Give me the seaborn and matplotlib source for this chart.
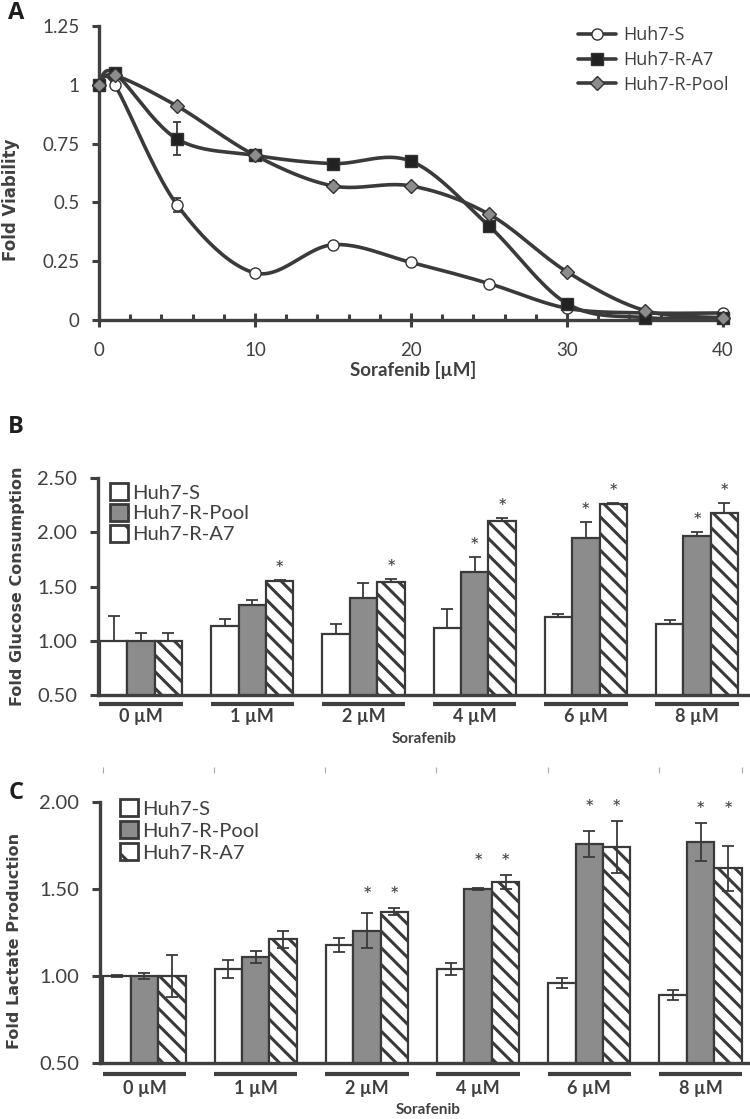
import numpy as np
import pandas as pd
import matplotlib
matplotlib.use("Agg")
import matplotlib.pyplot as plt
import matplotlib.transforms as mtransforms
import seaborn as sns
from matplotlib.patches import Patch
from matplotlib.lines import Line2D
from matplotlib.ticker import MultipleLocator

# ---- panel A : viability vs sorafenib dose
dose_a = [0, 1, 5, 10, 15, 20, 25, 30, 35, 40]
via_s = [1.0, 1.0, 0.49, 0.20, 0.32, 0.245, 0.155, 0.05, 0.03, 0.03]
via_a7 = [1.0, 1.05, 0.77, 0.70, 0.665, 0.675, 0.40, 0.07, 0.01, 0.01]
via_pool = [1.0, 1.04, 0.91, 0.70, 0.57, 0.57, 0.45, 0.205, 0.04, 0.01]
err_s = [0, 0, 0.03, 0, 0, 0, 0, 0, 0, 0]
err_a7 = [0, 0, 0.07, 0, 0, 0, 0, 0, 0, 0]
err_pool = [0, 0, 0, 0, 0.015, 0, 0, 0, 0, 0]
a_yticks = [0, 0.25, 0.5, 0.75, 1, 1.25]
a_yticklabels = ["0", "0.25", "0.5", "0.75", "1", "1.25"]

# ---- panels B and C
doses = ["0 µM", "1 µM", "2 µM", "4 µM", "6 µM", "8 µM"]
cell_lines = ["Huh7-S", "Huh7-R-Pool", "Huh7-R-A7"]

glu_s = [1.00, 1.14, 1.06, 1.12, 1.22, 1.15]
glu_pool = [1.00, 1.33, 1.39, 1.63, 1.95, 1.97]
glu_a7 = [1.00, 1.55, 1.54, 2.10, 2.26, 2.18]
glu_err_s = [0.23, 0.06, 0.09, 0.17, 0.03, 0.04]
glu_err_pool = [0.07, 0.05, 0.14, 0.14, 0.14, 0.03]
glu_err_a7 = [0.07, 0.01, 0.03, 0.03, 0.01, 0.09]
glu_sig = [[0, 0, 0], [0, 0, 1], [0, 0, 1], [0, 1, 1], [0, 1, 1], [0, 1, 1]]

lac_s = [1.00, 1.04, 1.18, 1.04, 0.96, 0.89]
lac_pool = [1.00, 1.11, 1.26, 1.50, 1.76, 1.77]
lac_a7 = [1.00, 1.21, 1.37, 1.54, 1.74, 1.62]
lac_err_s = [0.005, 0.05, 0.04, 0.035, 0.03, 0.03]
lac_err_pool = [0.02, 0.035, 0.10, 0.005, 0.075, 0.11]
lac_err_a7 = [0.12, 0.05, 0.02, 0.04, 0.15, 0.13]
lac_sig = [[0, 0, 0], [0, 0, 0], [0, 1, 1], [0, 1, 1], [0, 1, 1], [0, 1, 1]]

DARK = "#3a3a3a"
TXT = "#404040"

sns.set_theme(style="white")
plt.rcParams["font.family"] = ["Lato", "DejaVu Sans"]
plt.rcParams["hatch.linewidth"] = 2.2
plt.rcParams["hatch.color"] = "#1e1e1e"
plt.rcParams["text.color"] = TXT


def smooth_curve(xs, ys, sx=15.6, sy=235.0, n=25):
    # excel style smoothed line (bezier through the points)
    px = np.asarray(xs, float) * sx
    py = np.asarray(ys, float) * sy
    t = np.linspace(0, 1, n)[:, None]
    k = len(px)
    segs = []
    for i in range(k - 1):
        a, b = max(i - 1, 0), min(i + 2, k - 1)
        p0 = np.array([px[i], py[i]])
        p3 = np.array([px[i + 1], py[i + 1]])
        c1 = p0 + np.array([px[i + 1] - px[a], py[i + 1] - py[a]]) / 6
        c2 = p3 - np.array([px[b] - px[i], py[b] - py[i]]) / 6
        seg = (1 - t) ** 3 * p0 + 3 * (1 - t) ** 2 * t * c1 + 3 * (1 - t) * t ** 2 * c2 + t ** 3 * p3
        segs.append(seg if i == 0 else seg[1:])
    pts = np.vstack(segs)
    return pts[:, 0] / sx, pts[:, 1] / sy


W, H = 750, 1119
fig = plt.figure(figsize=(7.5, 11.19), dpi=100)

# ================= A
axA = fig.add_axes([99 / W, 1 - 320 / H, 628 / W, 294 / H])
styles = [
    ("Huh7-S", via_s, err_s, "o", "white", 8),
    ("Huh7-R-A7", via_a7, err_a7, "s", "#222222", 8),
    ("Huh7-R-Pool", via_pool, err_pool, "D", "#8c8c8c", 7.5),
]
handles = []
for name, vals, err, mk, fc, ms in styles:
    cx, cy = smooth_curve(dose_a, vals)
    sns.lineplot(x=cx, y=cy, sort=False, estimator=None, color=DARK, linewidth=2.6, ax=axA)
    axA.errorbar(dose_a, vals, yerr=err, fmt="none", ecolor=DARK, elinewidth=1.3,
                 capsize=3, capthick=1.3, zorder=4)
    axA.plot(dose_a, vals, ls="none", marker=mk, ms=ms, mfc=fc, mec="#333333", mew=1.0,
             clip_on=False, zorder=5)
    handles.append(Line2D([], [], color=DARK, lw=2.6, marker=mk, ms=ms, mfc=fc,
                          mec="#333333", mew=1.0, label=name))

axA.set_xlim(0, 40.26)
axA.set_ylim(0, 1.25)
axA.set_yticks(a_yticks)
axA.set_yticklabels(a_yticklabels)
axA.xaxis.set_major_locator(MultipleLocator(10))
axA.xaxis.set_minor_locator(MultipleLocator(2))
axA.tick_params(axis="y", direction="out", length=5, width=2.2, color=TXT,
                labelsize=13.5, labelcolor=TXT, pad=9, left=True)
axA.tick_params(axis="x", which="major", direction="inout", length=10, width=2.2,
                color=TXT, labelsize=13.5, labelcolor=TXT, pad=11, bottom=True)
axA.tick_params(axis="x", which="minor", direction="in", length=4, width=2.2,
                color=TXT, bottom=True)
for s in ["top", "right"]:
    axA.spines[s].set_visible(False)
for s in ["left", "bottom"]:
    axA.spines[s].set_linewidth(2.4)
    axA.spines[s].set_color(TXT)
axA.set_xlabel("Sorafenib [µM]", fontsize=13.5, fontweight="bold", color=TXT, labelpad=1)
axA.set_ylabel("Fold Viability", fontsize=12, fontweight="bold", color=TXT,
               family="DejaVu Sans")
axA.yaxis.set_label_coords(-0.126, 0.41)
axA.legend(handles=handles, loc="upper left", bbox_to_anchor=(0.763, 1.0), frameon=False,
           borderpad=0, borderaxespad=0, handlelength=2.1, handletextpad=0.4,
           labelspacing=0.38, prop={"family": "Open Sans", "size": 13}, labelcolor=TXT)


# ================= B and C
palette = {"Huh7-S": "white", "Huh7-R-Pool": "#8c8c8c", "Huh7-R-A7": "white"}


def bar_panel(ax, vals, errs, sig, ylim, yticks, ylabel, xlim, both_err, group_stars,
              leg_anchor, label_y, ulab, labpos, xl_y, lab_y, lab_x):
    rows = []
    for name, v in zip(cell_lines, vals):
        for d, val in zip(doses, v):
            rows.append({"dose": d, "line": name, "value": val})
    df = pd.DataFrame(rows)
    sns.barplot(data=df, x="dose", y="value", hue="line", order=doses, hue_order=cell_lines,
                palette=palette, width=0.74, gap=0, errorbar=None, saturation=1,
                edgecolor=DARK, linewidth=1.6, legend=False, ax=ax)
    tops = np.zeros((len(doses), 3))
    centers = np.zeros((len(doses), 3))
    for j, (cont, name, err) in enumerate(zip(ax.containers, cell_lines, errs)):
        xs = np.array([b.get_x() + b.get_width() / 2 for b in cont])
        hs = np.array([b.get_height() for b in cont])
        if name == "Huh7-R-A7":
            for b in cont:
                b.set_hatch("\\\\")
        e = np.array(err)
        yerr = [e, e] if both_err else [np.zeros_like(e), e]
        ax.errorbar(xs, hs, yerr=yerr, fmt="none", ecolor=DARK, elinewidth=1.3,
                    capsize=4, capthick=1.3, zorder=4)
        tops[:, j] = hs + e
        centers[:, j] = xs
    # significance stars
    for i in range(len(doses)):
        marked = [j for j in range(3) if sig[i][j]]
        if not marked:
            continue
        gtop = max(tops[i, j] for j in marked)
        for j in marked:
            y = (gtop if group_stars else tops[i, j]) + 0.07 * (ylim[1] - ylim[0]) / 1.5
            ax.text(centers[i, j], y, "*", ha="center", va="center", fontsize=16, color=TXT)

    ax.set_xlim(*xlim)
    ax.set_ylim(*ylim)
    ax.set_yticks(yticks)
    ax.set_yticklabels([f"{t:.2f}" for t in yticks])
    ax.set_xticks(range(len(doses)))
    ax.set_xticklabels([])
    ax.tick_params(axis="x", length=0)
    ax.tick_params(axis="y", direction="out", length=6, width=2.2, color=TXT,
                   labelsize=14.5, labelcolor=TXT, pad=9, left=True)
    for s in ["top", "right"]:
        ax.spines[s].set_visible(False)
    for s in ["left", "bottom"]:
        ax.spines[s].set_linewidth(2.4)
        ax.spines[s].set_color(TXT)
    ax.set_xlabel("")
    ax.set_ylabel(ylabel, fontsize=11.5, fontweight="bold", color=TXT, family="DejaVu Sans")
    ax.yaxis.set_label_coords(lab_x, lab_y)

    trans = mtransforms.blended_transform_factory(ax.transData, ax.transAxes)
    for i, d in enumerate(doses):
        ax.plot([i - 0.375, i + 0.375], [ulab, ulab], transform=trans, clip_on=False,
                color=TXT, lw=3, solid_capstyle="butt")
        ax.text(i, labpos, d, transform=trans, ha="center", va="center", fontsize=13,
                fontweight="bold", color=TXT)
    ax.text(2.55, xl_y, "Sorafenib", transform=trans, ha="center", va="center",
            fontsize=11, fontweight="bold", color=TXT)

    leg_handles = [
        Patch(facecolor="white", edgecolor=DARK, linewidth=2, label="Huh7-S"),
        Patch(facecolor="#8c8c8c", edgecolor=DARK, linewidth=2, label="Huh7-R-Pool"),
        Patch(facecolor="white", edgecolor=DARK, linewidth=2, hatch="\\", label="Huh7-R-A7"),
    ]
    ax.legend(handles=leg_handles, loc="upper left", bbox_to_anchor=leg_anchor,
              frameon=False, borderpad=0, borderaxespad=0, handlelength=0.9,
              handleheight=0.9, handletextpad=0.2, labelspacing=label_y,
              fontsize=14.5, labelcolor=TXT)
    return trans


axB = fig.add_axes([98 / W, 1 - 695 / H, 652 / W, 217 / H])
bar_panel(axB, [glu_s, glu_pool, glu_a7], [glu_err_s, glu_err_pool, glu_err_a7], glu_sig,
          (0.5, 2.5), [0.5, 1.0, 1.5, 2.0, 2.5], "Fold Glucose Consumption",
          (-0.387, 5.476), False, False, (0.018, 0.975), 0.12,
          -0.042, -0.10, -0.205, 0.5, -0.112)

axC = fig.add_axes([100 / W, 1 - 1063 / H, 650 / W, 261 / H])
transC = bar_panel(axC, [lac_s, lac_pool, lac_a7], [lac_err_s, lac_err_pool, lac_err_a7],
                   lac_sig, (0.5, 2.0), [0.5, 1.0, 1.5, 2.0], "Fold Lactate Production",
                   (-0.40, 5.445), True, True, (0.031, 1.01), 0.18,
                   -0.042, -0.096, -0.18, 0.467, -0.12)

# faint category marks above panel C
marks = [i - 0.375 for i in range(len(doses))] + [len(doses) - 1 + 0.375]
axC.vlines(marks, 1.11, 1.135, transform=transC, colors="#a8a8a8", lw=0.8, clip_on=False)

# panel letters
for letter, y in [("A", 1 - 13 / H), ("B", 1 - 427 / H), ("C", 1 - 793 / H)]:
    fig.text(0.021, y, letter, ha="center", va="center", fontsize=17, fontweight="bold",
             family="Open Sans", color="#1e1e1e")

fig.savefig("out.png", dpi=100)
